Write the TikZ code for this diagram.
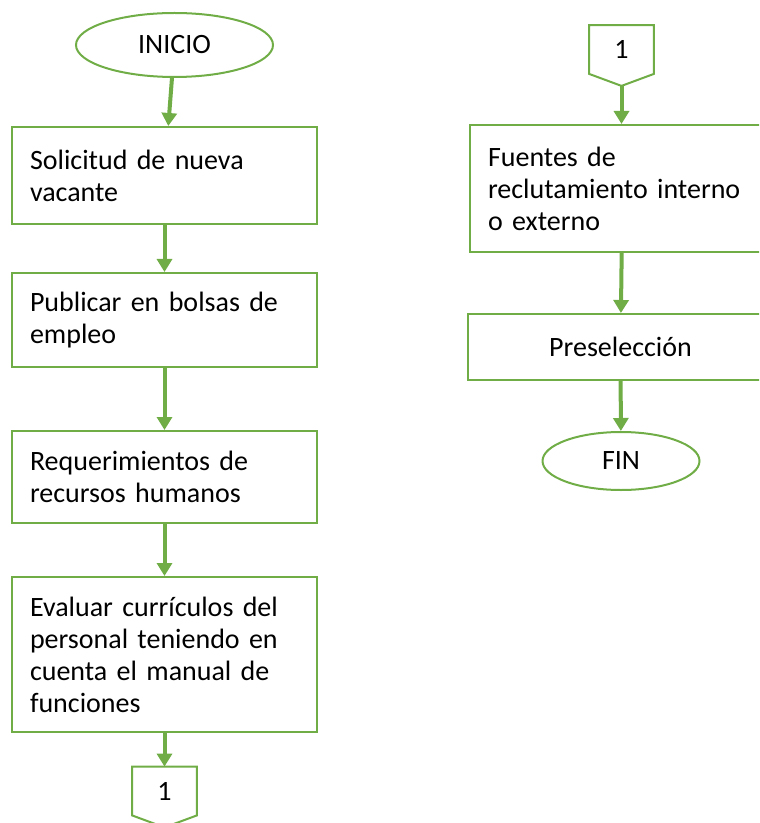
\documentclass[tikz,border=0pt]{standalone}
\usepackage{fontspec}
\setmainfont{Carlito}[WordSpace=0.55]
\usetikzlibrary{shapes.geometric,arrows.meta}
\definecolor{verde}{HTML}{70AD47}
\begin{document}
\begin{tikzpicture}[x=0.5pt,y=-0.5pt,
  texto/.style={font=\fontsize{14}{16}\selectfont},
  caja/.style={texto,draw=verde,line width=1pt,align=left,text width=134.5pt,inner xsep=9pt},
  terminal/.style={texto,draw=verde,line width=1pt,ellipse,inner sep=0pt},
  conector/.style={texto,minimum width=32pt,minimum height=24pt,inner sep=0pt},
  borde/.style={draw=verde,line width=1pt},
  flecha/.style={draw=verde,line width=2pt,-{Triangle[length=6.5pt,width=7.5pt]}}]
\useasboundingbox (0,0) rectangle (759,823);
\clip (0,0) rectangle (759,823);
% columna izquierda
\node[terminal,minimum width=98.5pt,minimum height=32pt] (inicio) at (174.5,45) {INICIO};
\node[caja,minimum height=48.5pt] (sol) at (164.5,175.5) {Solicitud de nueva\\vacante};
\node[caja,minimum height=47pt] (pub) at (164.5,320) {Publicar en bolsas de\\empleo};
\node[caja,minimum height=46pt] (req) at (164.5,477) {Requerimientos de\\recursos humanos};
\node[caja,minimum height=77.5pt] (eva) at (164.5,654.5) {Evaluar currículos del\\personal teniendo en\\cuenta el manual de\\funciones};
\node[conector] (con1) at (164.5,791) {1};
\draw[borde] (con1.north west) -- (con1.north east) -- (con1.south east)
  -- ([yshift=-6pt]con1.south) -- (con1.south west) -- cycle;
% columna derecha
\node[conector] (con2) at (621.5,49.5) {1};
\draw[borde] (con2.north west) -- (con2.north east) -- (con2.south east)
  -- ([yshift=-6pt]con2.south) -- (con2.south west) -- cycle;
\coordinate (con2p) at ([yshift=-6pt]con2.south);
\node[caja,minimum height=63.5pt] (fue) at (622.5,188.5) {Fuentes de\\reclutamiento interno\\o externo};
\node[caja,align=center,minimum height=33pt] (pre) at (620.5,347) {Preselección};
\node[terminal,minimum width=78.5pt,minimum height=29pt] (fin) at (621,461) {FIN};
% flechas
\foreach \a/\b in {inicio/sol, sol/pub, pub/req, req/eva, eva/con1, fue/pre, pre/fin} {
  \draw[flecha] (\a) -- (\b);
}
\draw[flecha] (con2p) -- (con2p |- fue.north);
\end{tikzpicture}
\end{document}
